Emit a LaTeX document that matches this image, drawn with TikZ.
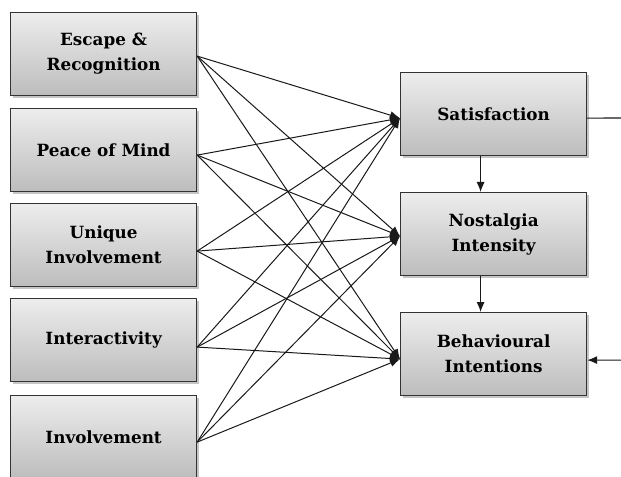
\documentclass[tikz,border=0pt]{standalone}
\usepackage{fontspec}
\setmainfont{DejaVu Serif}
\usetikzlibrary{arrows.meta,shadows}
\begin{document}
\begin{tikzpicture}[x=1bp,y=-1bp,
  box/.style={draw=black!80, line width=1.2bp, top color=gray!14, bottom color=gray!52,
    minimum width=186bp, minimum height=83bp, inner sep=0pt, align=center,
    anchor=north west, font=\fontsize{16.8bp}{25bp}\selectfont\bfseries,
    drop shadow={shadow xshift=2bp, shadow yshift=-2bp, fill=black!45, opacity=0.5}},
  link/.style={line width=1bp, draw=black!90, -{Latex[length=10bp,width=8bp]}},
  plain/.style={line width=1.1bp, draw=black!90},
]
\useasboundingbox (0,0) rectangle (621,477);
\clip (0,0) rectangle (621,477);

% antecedent boxes
\node[box] (esc) at (10,12)  {Escape \&\\Recognition};
\node[box] (pom) at (10,108) {Peace of Mind};
\node[box] (uni) at (10,203) {Unique\\Involvement};
\node[box] (int) at (10,298) {Interactivity};
\node[box] (inv) at (10,395) {Involvement};

% outcome boxes
\node[box] (sat) at (400,72)  {Satisfaction};
\node[box] (nos) at (400,192) {Nostalgia\\Intensity};
\node[box] (beh) at (400,312) {Behavioural\\Intentions};

% line origins on the antecedents
\coordinate (esc-o) at ([yshift=-2bp]esc.east);
\coordinate (pom-o) at ([yshift=-5bp]pom.east);
\coordinate (uni-o) at ([yshift=-6bp]uni.east);
\coordinate (int-o) at ([yshift=-7bp]int.east);
\coordinate (inv-o) at ([yshift=-5bp]inv.east);

% arrow targets on the outcomes
\coordinate (sat-i) at ([yshift=-4bp]sat.west);
\coordinate (nos-i) at ([yshift=-2bp]nos.west);
\coordinate (beh-i) at ([yshift=-5bp]beh.west);

\foreach \s in {esc,pom,uni,int,inv}
  \foreach \t in {sat,nos,beh}
    \draw[link] (\s-o) -- (\t-i);

% chain between outcomes
\draw[link] ([xshift=-13bp]sat.south) -- ([xshift=-13bp]nos.north);
\draw[link] ([xshift=-13bp]nos.south) -- ([xshift=-13bp]beh.north);

% links leaving and entering on the right
\coordinate (out-r) at (621,118);
\coordinate (in-r) at (621,360);
\draw[plain] ([yshift=-4bp]sat.east) -- (out-r);
\draw[link] (in-r) -- ([yshift=-6bp]beh.east);
\end{tikzpicture}
\end{document}
